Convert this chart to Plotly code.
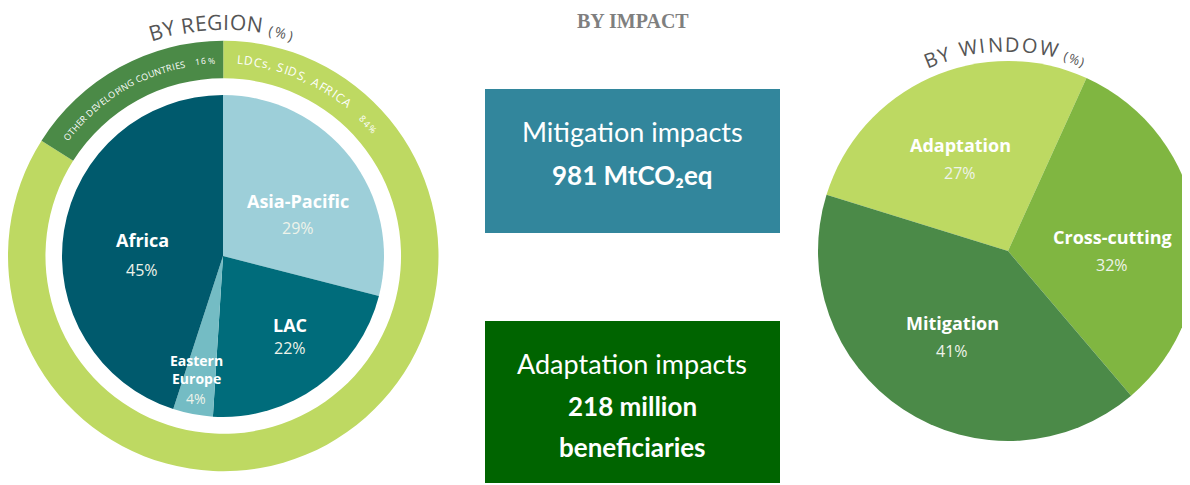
import math
import plotly.graph_objects as go

W, H = 1190, 485
OFF = 8  # page body margin; coordinates below are page pixels

# ---- data ----
region_labels = ["Asia-Pacific", "LAC", "Eastern Europe", "Africa"]
region_values = [29, 22, 4, 45]
group_labels = ["LDCs, SIDS, AFRICA", "OTHER DEVELOPING COUNTRIES"]
group_values = [84, 16]
window_labels = ["Adaptation", "Cross-cutting", "Mitigation"]
window_values = [27, 32, 41]
impact_titles = ["Mitigation impacts", "Adaptation impacts"]
impact_values = ["981 MtCO₂eq", "218 million<br>beneficiaries"]

# ---- styles ----
region_colors = ["#9dcfd9", "#006c7b", "#74bcc4", "#005a6d"]
group_colors = ["#bed962", "#4b8a47"]
window_colors = ["#bdd962", "#80b641", "#4b8a48"]
box_colors = ["#32869c", "#006400"]
WHITE = "#ffffff"
PCT = "#eef3ea"
GREY = "#555555"


def px(x, y):
    return (x - OFF) / W, 1 - (y - OFF) / H


def dom(cx, cy, r):
    x0, y1 = px(cx - r, cy - r)
    x1, y0 = px(cx + r, cy + r)
    return dict(x=[max(x0, 0), min(x1, 1)], y=[max(y0, 0), min(y1, 1)])


# rough glyph widths (em) for arc lettering
WID = {" ": .26, ",": .25, "%": .83, "(": .30, ")": .30, "-": .32, "I": .28, "M": .90,
       "W": .93, "O": .78, "C": .63, "G": .73, "D": .73, "N": .76, "Q": .78, "s": .49,
       "L": .52, "E": .56, "F": .52, "T": .56, "S": .56, "Y": .56, "R": .63, "P": .61,
       "A": .63, "B": .65, "H": .74, "U": .72, "V": .60}


def cw(c):
    if c.isdigit():
        return .57
    return WID.get(c, .62)


def note(x, y, text, size, color, family="Open Sans", angle=0, pad=1):
    xx, yy = px(x, y)
    return dict(x=xx, y=yy, xref="paper", yref="paper", text=text, showarrow=False,
                textangle=angle, xanchor="center", yanchor="middle", borderpad=pad,
                font=dict(size=size, color=color, family=family))


def arc_text(cx, cy, r, a0, a1, text, size, color, family="Open Sans"):
    ws = [cw(c) * size for c in text]
    n = len(text)
    inner = sum(ws) - (ws[0] + ws[-1]) / 2
    gap = (math.radians(a1 - a0) * r - inner) / (n - 1) if n > 1 else 0
    out, pos = [], 0.0
    for i, c in enumerate(text):
        if i > 0:
            pos += (ws[i - 1] + ws[i]) / 2 + gap
        if c == " ":
            continue
        ang = a0 + math.degrees(pos / r)
        x = cx + r * math.sin(math.radians(ang))
        y = cy - r * math.cos(math.radians(ang))
        out.append(note(x, y, c, size, color, family, ang))
    return out


L_C = (223, 256)   # left chart centre
R_C = (1008, 251)  # right chart centre
R_R = 190

fig = go.Figure()

# outer ring: LDCs / other developing countries
fig.add_trace(go.Pie(labels=group_labels, values=group_values, hole=178 / 215.5,
                     sort=False, direction="clockwise", rotation=0,
                     marker=dict(colors=group_colors, line=dict(width=0)),
                     textinfo="none", hoverinfo="skip", domain=dom(L_C[0], L_C[1], 215.5)))

# inner pie: regions
fig.add_trace(go.Pie(labels=region_labels, values=region_values,
                     sort=False, direction="clockwise", rotation=0,
                     marker=dict(colors=region_colors, line=dict(width=0)),
                     textinfo="none", hoverinfo="skip", domain=dom(L_C[0], L_C[1], 161)))

# right pie: windows
fig.add_trace(go.Pie(labels=window_labels, values=window_values,
                     sort=False, direction="clockwise", rotation=-72.8,
                     marker=dict(colors=window_colors, line=dict(width=0)),
                     textinfo="none", hoverinfo="skip", domain=dom(R_C[0], R_C[1], R_R)))

ann = []

# slice labels: (x, name y, pct y)
region_pos = [(298, 201, 228), (290, 325, 348), (196, 369, 398), (142, 240, 270)]
window_pos = [(960, 145, 173), (1112, 237, 265), (952, 323, 351)]


def slice_label(name, val, pos, big=18, small=16):
    x, yn, yp = pos
    return [note(x, yn, "<b>" + name + "</b>", big, WHITE),
            note(x, yp, str(val) + "%", small, PCT)]


for n, v, p in zip(region_labels, region_values, region_pos):
    if n == "Eastern Europe":
        ann += slice_label(n.replace(" ", "<br>"), v, p, 14, 14)
    else:
        ann += slice_label(n, v, p)
for n, v, p in zip(window_labels, window_values, window_pos):
    ann += slice_label(n, v, p)

# curved titles
ann += arc_text(L_C[0], L_C[1], 234, -16.7, 7.8, "BY REGION", 21, GREY)
ann += arc_text(L_C[0], L_C[1], 231, 12, 17, "(%)", 14, GREY)
ann += arc_text(R_C[0], R_C[1], 207, -22, 11.5, "BY WINDOW", 20, GREY)
ann += arc_text(R_C[0], R_C[1], 203, 16.5, 21.5, "(%)", 13, GREY)

# ring lettering
ann += arc_text(L_C[0], L_C[1], 197, 5, 39, group_labels[0], 12, WHITE)
ann += arc_text(L_C[0], L_C[1], 196, 45.5, 49.5, str(group_values[0]) + "%", 9, WHITE)
ann += arc_text(L_C[0], L_C[1], 196, -52.5, -12, group_labels[1], 9, WHITE)
ann += arc_text(L_C[0], L_C[1], 196, -7.5, -3.5, str(group_values[1]) + "%", 8.5, WHITE)

# middle column: impact boxes
shapes = []
boxes = [(485, 89, 780, 233), (485, 321, 780, 483)]
for (x0, y0, x1, y1), c in zip(boxes, box_colors):
    a = px(x0, y1)
    b = px(x1, y0)
    shapes.append(dict(type="rect", xref="paper", yref="paper", x0=a[0], y0=a[1], x1=b[0], y1=b[1],
                       fillcolor=c, line=dict(width=0), layer="below"))

ann.append(note(633, 21, "<b>BY IMPACT</b>", 20, "#7f7f7f", "Liberation Serif", pad=0))

box_text_y = [(132, [175]), (363, [406, 447])]
for title, val, (yt, ys) in zip(impact_titles, impact_values, box_text_y):
    ann.append(note(632, yt, title, 27, WHITE, "Lato"))
    for line, yv in zip(val.split("<br>"), ys):
        ann.append(note(632, yv, "<b>" + line + "</b>", 26, WHITE, "Lato"))

fig.update_layout(width=W, height=H, margin=dict(l=0, r=0, t=0, b=0),
                  paper_bgcolor="white", plot_bgcolor="white", showlegend=False,
                  annotations=ann, shapes=shapes)

fig.write_html("out.html", config=dict(displayModeBar=False))
